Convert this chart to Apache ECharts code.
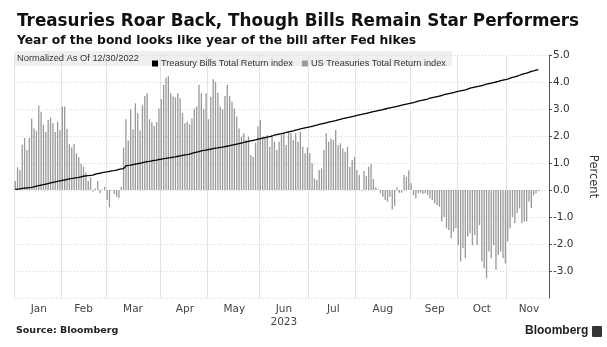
<!DOCTYPE html>
<html>
<head>
<meta charset="utf-8">
<script src="https://cdn.jsdelivr.net/npm/echarts@6/dist/echarts.min.js"></script>
<style>
  html, body { margin: 0; padding: 0; background: #fff; }
  #chart { width: 607px; height: 347px; }
</style>
</head>
<body>
<div id="chart"></div>
<script>
// Trading calendar (bond market): weekdays from first to last day, minus holidays
const firstDay = '2023-01-03';
const lastDay = '2023-11-28';
const holidays = ['2023-01-16', '2023-02-20', '2023-05-29', '2023-06-19', '2023-07-04',
                  '2023-09-04', '2023-10-09', '2023-11-10', '2023-11-23'];
const monthNames = ['Jan', 'Feb', 'Mar', 'Apr', 'May', 'Jun', 'Jul', 'Aug', 'Sep', 'Oct', 'Nov'];
const yearLabel = '2023';
const yearUnder = 'Jun';
const yTicks = [-3, -2, -1, 0, 1, 2, 3, 4, 5];

// US Treasuries total return index, % change since 12/30/2022 (bars)
const ustJan = [0.33, 0.84, 0.74, 1.68, 1.93, 1.48, 1.93, 2.65, 2.28, 2.19, 3.12, 2.90, 2.41, 2.15, 2.59, 2.68, 2.47, 2.15, 2.53, 2.22];
const ustFeb = [3.09, 3.09, 2.27, 1.70, 1.58, 1.70, 1.36, 1.21, 0.96, 0.86, 0.65, 0.33, 0.47, -0.06, 0.06, 0.33, -0.12, 0.02, 0.12];
const ustMar = [-0.37, -0.64, -0.02, -0.15, -0.25, -0.30, 0.12, 1.57, 2.62, 1.83, 2.99, 2.25, 3.21, 2.84, 2.20, 3.14, 3.48, 3.58, 2.62, 2.51, 2.37, 2.52, 3.02];
const ustApr = [3.37, 3.89, 4.17, 4.22, 3.58, 3.46, 3.43, 3.58, 3.40, 2.86, 2.47, 2.53, 2.44, 2.65, 3.02, 3.09, 3.89, 3.58, 3.00, 3.58];
const ustMay = [2.62, 3.45, 4.10, 4.01, 3.60, 3.09, 2.99, 3.48, 3.89, 3.48, 3.27, 3.02, 2.72, 2.28, 1.98, 2.10, 1.85, 1.98, 1.30, 1.23, 1.75, 2.35];
const ustJun = [2.59, 1.98, 1.98, 2.04, 1.60, 1.98, 1.79, 1.48, 1.79, 2.04, 2.10, 1.67, 2.16, 2.10, 1.85, 2.10, 1.79, 2.16, 1.60, 1.36, 1.58];
const ustJul = [1.36, 0.99, 0.43, 0.37, 0.74, 0.80, 1.48, 2.10, 1.79, 1.91, 1.85, 2.22, 1.67, 1.73, 1.54, 1.42, 1.60, 0.86, 1.11, 1.23];
const ustAug = [0.74, 0.56, -0.03, 0.70, 0.52, 0.86, 0.96, 0.40, 0.10, 0.03, -0.12, -0.25, -0.37, -0.43, -0.25, -0.72, -0.59, 0.10, -0.10, -0.10, 0.56, 0.49, 0.72];
const ustSep = [0.25, -0.19, -0.31, -0.12, -0.10, -0.15, -0.12, -0.19, -0.31, -0.37, -0.49, -0.56, -0.62, -1.17, -0.99, -1.42, -1.48, -1.79, -1.54, -1.42];
const ustOct = [-2.04, -2.65, -2.16, -2.53, -1.73, -1.60, -2.04, -1.67, -2.04, -1.30, -2.65, -2.90, -3.27, -2.28, -2.53, -2.04, -2.96, -2.41, -2.28, -2.53, -2.72];
const ustNov = [-1.91, -1.42, -1.00, -1.23, -0.86, -0.68, -1.23, -1.17, -1.17, -0.43, -0.68, -0.19, -0.12, -0.04];

// Treasury bills total return index, % change since 12/30/2022 (line)
const billJan = [0.02, 0.03, 0.04, 0.06, 0.07, 0.08, 0.09, 0.10, 0.12, 0.14, 0.16, 0.18, 0.20, 0.22, 0.24, 0.26, 0.28, 0.30, 0.32, 0.34];
const billFeb = [0.36, 0.37, 0.39, 0.41, 0.43, 0.44, 0.46, 0.47, 0.49, 0.51, 0.52, 0.53, 0.54, 0.55, 0.59, 0.61, 0.62, 0.64, 0.66];
const billMar = [0.67, 0.69, 0.71, 0.72, 0.74, 0.76, 0.78, 0.79, 0.89, 0.91, 0.92, 0.94, 0.96, 0.98, 0.99, 1.01, 1.03, 1.05, 1.06, 1.08, 1.10, 1.11, 1.13];
const billApr = [1.14, 1.16, 1.17, 1.19, 1.20, 1.22, 1.23, 1.25, 1.26, 1.28, 1.30, 1.31, 1.33, 1.36, 1.38, 1.40, 1.42, 1.45, 1.47, 1.48];
const billMay = [1.50, 1.51, 1.53, 1.55, 1.56, 1.58, 1.59, 1.61, 1.62, 1.64, 1.66, 1.68, 1.70, 1.72, 1.74, 1.76, 1.78, 1.80, 1.82, 1.84, 1.86, 1.88];
const billJun = [1.90, 1.92, 1.94, 1.96, 1.98, 2.00, 2.03, 2.05, 2.07, 2.09, 2.11, 2.13, 2.15, 2.17, 2.19, 2.22, 2.24, 2.26, 2.28, 2.30, 2.32];
const billJul = [2.34, 2.36, 2.38, 2.40, 2.43, 2.45, 2.47, 2.49, 2.51, 2.53, 2.55, 2.57, 2.60, 2.62, 2.64, 2.66, 2.68, 2.70, 2.72, 2.74];
const billAug = [2.76, 2.78, 2.80, 2.82, 2.84, 2.86, 2.88, 2.90, 2.92, 2.94, 2.96, 2.98, 3.00, 3.02, 3.04, 3.06, 3.08, 3.10, 3.12, 3.14, 3.16, 3.18, 3.20];
const billSep = [3.22, 3.24, 3.26, 3.29, 3.31, 3.33, 3.35, 3.37, 3.40, 3.42, 3.44, 3.46, 3.48, 3.50, 3.53, 3.55, 3.57, 3.59, 3.61, 3.63];
const billOct = [3.65, 3.67, 3.69, 3.71, 3.74, 3.77, 3.79, 3.81, 3.83, 3.85, 3.87, 3.89, 3.92, 3.94, 3.96, 3.98, 4.00, 4.02, 4.05, 4.07, 4.09];
const billNov = [4.11, 4.14, 4.17, 4.19, 4.22, 4.25, 4.28, 4.31, 4.33, 4.36, 4.39, 4.41, 4.44, 4.46];

const ustSeries = [].concat(ustJan, ustFeb, ustMar, ustApr, ustMay, ustJun, ustJul, ustAug, ustSep, ustOct, ustNov);
const billSeries = [].concat(billJan, billFeb, billMar, billApr, billMay, billJun, billJul, billAug, billSep, billOct, billNov);

function buildDates() {
  const out = [];
  const skip = new Set(holidays);
  const d = new Date(firstDay + 'T00:00:00Z');
  const end = new Date(lastDay + 'T00:00:00Z');
  while (d <= end) {
    const wd = d.getUTCDay();
    const iso = d.toISOString().slice(0, 10);
    if (wd !== 0 && wd !== 6 && !skip.has(iso)) out.push(iso);
    d.setUTCDate(d.getUTCDate() + 1);
  }
  return out;
}
const dates = buildDates();

// first index and middle index of each month on the category axis
const monthStart = new Set();
const monthMid = {};
const byMonth = {};
dates.forEach((s, i) => {
  const m = +s.slice(5, 7) - 1;
  (byMonth[m] = byMonth[m] || []).push(i);
});
Object.keys(byMonth).forEach(m => {
  const idx = byMonth[m];
  monthStart.add(idx[0]);
  monthMid[Math.round((idx[0] + idx[idx.length - 1]) / 2)] = +m;
});

const pad = n => new Array(Math.max(0, dates.length - n)).fill(null);
const barData = ustSeries.concat(pad(ustSeries.length));
const lineData = billSeries.concat(pad(billSeries.length));

const chart = echarts.init(document.getElementById('chart'), null, { renderer: 'canvas' });
const gridLeft = 14, gridRight = 50, gridTop = 55, gridBottom = 49;

chart.setOption({
  animation: false,
  backgroundColor: '#fff',
  textStyle: { fontFamily: 'Liberation Sans' },
  title: [
    {
      text: 'Treasuries Roar Back, Though Bills Remain Star Performers',
      left: 12, top: 8,
      textStyle: { fontFamily: 'DejaVu Sans', fontWeight: 'bold', fontSize: 16.8, color: '#111' }
    },
    {
      text: 'Year of the bond looks like year of the bill after Fed hikes',
      left: 12, top: 30,
      textStyle: { fontFamily: 'DejaVu Sans', fontWeight: 'bold', fontSize: 12.3, color: '#111' }
    }
  ],
  legend: {
    left: 147, top: 54,
    icon: 'rect', itemWidth: 6, itemHeight: 6, itemGap: 9,
    textStyle: { fontFamily: 'Liberation Sans', fontSize: 9.2, color: '#333', padding: [0, 0, 0, -2] },
    data: ['Treasury Bills Total Return index', 'US Treasuries Total Return index']
  },
  graphic: [
    { type: 'rect', z: 0, shape: { x: 14, y: 51, width: 438, height: 15 }, style: { fill: 'rgba(236,236,236,0.85)' } },
    { type: 'text', z: 10, left: 17, top: 54,
      style: { text: 'Normalized As Of 12/30/2022', font: '9.3px "Liberation Sans"', fill: '#333' } },
    { type: 'text', left: 16, top: 326,
      style: { text: 'Source: Bloomberg', font: 'bold 9.5px "DejaVu Sans"', fill: '#222' } },
    { type: 'text', left: 525, top: 325,
      style: { text: 'Bloomberg', font: 'bold 12px "Liberation Sans"', fill: '#222' } },
    { type: 'rect', left: 592, top: 326, shape: { width: 10, height: 11, r: 1 }, style: { fill: '#333' } }
  ],
  grid: { left: gridLeft, right: gridRight, top: gridTop, bottom: gridBottom },
  xAxis: {
    type: 'category',
    data: dates,
    boundaryGap: true,
    axisLine: { show: false },
    axisTick: { show: false },
    axisLabel: {
      interval: (i) => monthMid[i] !== undefined,
      formatter: (v, i) => {
        const name = monthNames[+v.slice(5, 7) - 1];
        return name === yearUnder ? name + '\n' + yearLabel : name;
      },
      color: '#444', fontFamily: 'DejaVu Sans', fontSize: 10.5, margin: 5, lineHeight: 13
    },
    splitLine: {
      show: true,
      interval: (i) => monthStart.has(i),
      lineStyle: { color: '#e3e3e3', width: 1 }
    }
  },
  yAxis: {
    type: 'value',
    position: 'right',
    min: -4, max: 5, interval: 1,
    axisLine: { show: true, lineStyle: { color: '#555', width: 1 } },
    axisTick: { show: true, length: 3, lineStyle: { color: '#555' } },
    axisLabel: {
      showMinLabel: false,
      formatter: v => (yTicks.indexOf(v) >= 0 ? v.toFixed(1) : ''),
      color: '#333', fontFamily: 'DejaVu Sans', fontSize: 10.5, margin: 4
    },
    splitLine: { show: true, lineStyle: { color: '#d6d6d6', type: [1, 2], width: 1 } },
    name: 'Percent',
    nameLocation: 'middle',
    nameRotate: -90,
    nameGap: 38,
    nameTextStyle: { fontFamily: 'DejaVu Sans', fontSize: 11.5, color: '#333' }
  },
  series: [
    {
      name: 'US Treasuries Total Return index',
      type: 'bar',
      data: barData,
      barWidth: 1.3,
      itemStyle: { color: '#999999' },
      z: 2
    },
    {
      name: 'Treasury Bills Total Return index',
      type: 'line',
      data: lineData,
      showSymbol: false,
      symbol: 'none',
      lineStyle: { color: '#000', width: 1.3 },
      itemStyle: { color: '#000' },
      z: 3
    }
  ]
});
</script>
</body>
</html>
